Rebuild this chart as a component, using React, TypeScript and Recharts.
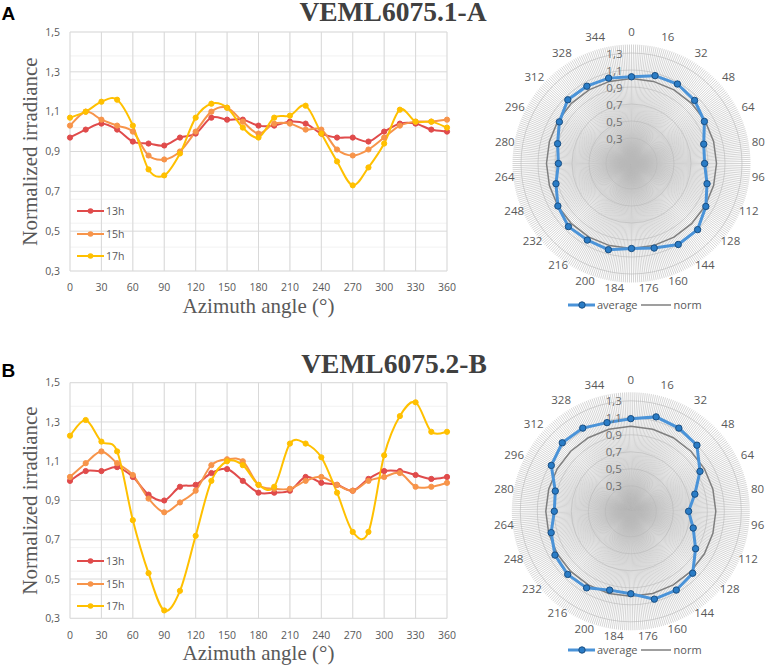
import React from 'react'
import {
  LineChart,
  Line,
  XAxis,
  YAxis,
  CartesianGrid,
  Legend,
  RadarChart,
  Radar,
  PolarGrid,
  PolarAngleAxis,
  PolarRadiusAxis,
} from 'recharts'

// Azimuth steps of the line charts (degrees)
const azimuth = [0, 15, 30, 45, 60, 75, 90, 105, 120, 135, 150, 165, 180, 195, 210, 225, 240, 255, 270, 285, 300, 315, 330, 345, 360]
const xTicks = [0, 30, 60, 90, 120, 150, 180, 210, 240, 270, 300, 330, 360]
const yTicks = [0.3, 0.5, 0.7, 0.9, 1.1, 1.3, 1.5]

// Panel A - VEML6075.1-A
const a13h = [0.97, 1.01, 1.04, 1.01, 0.95, 0.94, 0.93, 0.97, 0.99, 1.07, 1.06, 1.06, 1.03, 1.03, 1.05, 1.04, 0.99, 0.97, 0.97, 0.95, 1.0, 1.04, 1.04, 1.01, 1.0]
const a15h = [1.03, 1.1, 1.06, 1.03, 1.0, 0.88, 0.86, 0.9, 1.0, 1.1, 1.12, 1.05, 0.99, 1.04, 1.04, 1.01, 1.01, 0.91, 0.88, 0.91, 0.97, 1.03, 1.05, 1.05, 1.06]
const a17h = [1.07, 1.1, 1.15, 1.16, 1.03, 0.81, 0.78, 0.89, 1.07, 1.14, 1.12, 1.02, 0.97, 1.07, 1.08, 1.13, 0.99, 0.85, 0.73, 0.82, 0.94, 1.11, 1.05, 1.05, 1.02]

// Panel B - VEML6075.2-B
const b13h = [1.0, 1.05, 1.05, 1.07, 1.02, 0.93, 0.9, 0.97, 0.98, 1.04, 1.06, 1.0, 0.94, 0.94, 0.95, 1.02, 0.99, 0.98, 0.95, 1.01, 1.05, 1.05, 1.03, 1.01, 1.02]
const b15h = [1.02, 1.09, 1.15, 1.09, 1.03, 0.91, 0.84, 0.89, 0.95, 1.08, 1.11, 1.1, 0.98, 0.96, 0.96, 1.0, 1.02, 0.98, 0.95, 1.0, 1.02, 1.04, 0.97, 0.97, 0.99]
const b17h = [1.23, 1.31, 1.2, 1.15, 0.8, 0.53, 0.34, 0.44, 0.72, 1.0, 1.1, 1.08, 0.98, 0.97, 1.19, 1.19, 1.12, 0.94, 0.74, 0.74, 1.13, 1.33, 1.4, 1.25, 1.25]

// Radar charts: average every 15 degrees, plus the norm circle
const radarAngles = [0, 15, 30, 45, 60, 75, 90, 105, 120, 135, 150, 165, 180, 195, 210, 225, 240, 255, 270, 285, 300, 315, 330, 345]
const avgA = [1.02, 1.07, 1.08, 1.05, 0.99, 0.88, 0.86, 0.92, 1.01, 1.1, 1.1, 1.03, 1.0, 1.05, 1.04, 1.05, 1.0, 0.92, 0.86, 0.9, 0.98, 1.06, 1.05, 1.04]
const avgB = [1.09, 1.15, 1.13, 1.1, 0.94, 0.78, 0.68, 0.76, 0.88, 1.03, 1.07, 1.07, 0.97, 0.96, 1.04, 1.05, 1.03, 0.97, 0.9, 0.92, 1.08, 1.14, 1.13, 1.08]
const normLevel = 1.0
const angleLabels = [0, 16, 32, 48, 64, 80, 96, 112, 128, 144, 160, 176, 184, 200, 216, 232, 248, 264, 280, 296, 312, 328, 344]
const radarRings = [0.3, 0.5, 0.7, 0.9, 1.1, 1.3]

const hours = [
  { key: 'h13', name: '13h', color: '#e04b4b' },
  { key: 'h15', name: '15h', color: '#f7944a' },
  { key: 'h17', name: '17h', color: '#ffc000' },
]

const SANS = "'Open Sans', 'DejaVu Sans', sans-serif"
const SERIF = "'Liberation Serif', 'DejaVu Serif', serif"
const TEXT = '#595959'
const BLUE_LINE = '#4a93d8'
const BLUE_DOT = '#2a7cc6'
const BLUE_EDGE = '#1b4f82'

const fmt = (v: number) => v.toFixed(1).replace('.', ',')

// grid helper (not data): evenly spaced gridline values
const steps = (from: number, to: number, step: number) =>
  Array.from({ length: Math.round((to - from) / step) + 1 }, (_, i) => +(from + i * step).toFixed(3))
const minorY = steps(0.3, 1.5, 0.02)
const minorX = steps(0, 360, 10)
const spokes = steps(0, 359, 1)

// Excel-like smoothed line (Catmull-Rom through every point)
const excelSmooth = (context: any) => {
  let pts: number[][] = []
  return {
    areaStart() {},
    areaEnd() {},
    lineStart() {
      pts = []
    },
    lineEnd() {
      if (!pts.length) return
      context.moveTo(pts[0][0], pts[0][1])
      for (let i = 0; i < pts.length - 1; i++) {
        const p0 = pts[i - 1] || pts[i]
        const p1 = pts[i]
        const p2 = pts[i + 1]
        const p3 = pts[i + 2] || p2
        context.bezierCurveTo(
          p1[0] + (p2[0] - p0[0]) / 6,
          p1[1] + (p2[1] - p0[1]) / 6,
          p2[0] - (p3[0] - p1[0]) / 6,
          p2[1] - (p3[1] - p1[1]) / 6,
          p2[0],
          p2[1]
        )
      }
    },
    point(x: number, y: number) {
      pts.push([+x, +y])
    },
  }
}

const HoursLegend = () => (
  <div style={{ fontFamily: SANS, fontSize: 10.5, color: TEXT }}>
    {hours.map((h) => (
      <div key={h.key} style={{ display: 'flex', alignItems: 'center', height: 22.7 }}>
        <svg width={28} height={10}>
          <line x1={0} y1={5} x2={27} y2={5} stroke={h.color} strokeWidth={2} />
          <circle cx={13.5} cy={5} r={2.8} fill={h.color} />
        </svg>
        <span style={{ marginLeft: 1 }}>{h.name}</span>
      </div>
    ))}
  </div>
)

const YTitle = ({ viewBox }: any) => {
  const tx = viewBox.x + 28.5
  const ty = viewBox.y + viewBox.height / 2
  return (
    <text x={tx} y={ty} transform={`rotate(-90, ${tx}, ${ty})`} textAnchor="middle" fill={TEXT} fontSize={21} fontFamily={SERIF}>
      Normalized irradiance
    </text>
  )
}

const XTitle = ({ viewBox }: any) => (
  <text x={viewBox.x + viewBox.width / 2} y={viewBox.y + 41.7} textAnchor="middle" fill={TEXT} fontSize={21} fontFamily={SERIF}>
    Azimuth angle (°)
  </text>
)

const LinePanel = ({ s13, s15, s17, top, marginTop, marginBottom }: any) => {
  const rows = azimuth.map((a, i) => ({ angle: a, h13: s13[i], h15: s15[i], h17: s17[i] }))
  const tick = { fill: TEXT, fontSize: 10.5, fontFamily: SANS }
  return (
    <div style={{ position: 'absolute', left: 0, top }}>
      <LineChart width={460} height={320} data={rows} margin={{ top: marginTop, right: 13, bottom: marginBottom, left: 8 }}>
        <CartesianGrid horizontalValues={minorY} verticalValues={minorX} stroke="#efefef" strokeWidth={0.8} />
        <CartesianGrid horizontalValues={yTicks} verticalValues={xTicks} stroke="#d9d9d9" strokeWidth={1} />
        <XAxis
          dataKey="angle"
          type="number"
          domain={[0, 360]}
          ticks={xTicks}
          axisLine={false}
          tickLine={false}
          tickMargin={7}
          height={45}
          tick={tick}
          label={XTitle}
        />
        <YAxis
          type="number"
          domain={[0.3, 1.5]}
          ticks={yTicks}
          axisLine={false}
          tickLine={false}
          tickMargin={4}
          width={62}
          tick={tick}
          tickFormatter={fmt}
          label={YTitle}
        />
        <Legend
          layout="vertical"
          align="center"
          verticalAlign="middle"
          wrapperStyle={{ left: 77, top: 199.5, width: 60, height: 70 }}
          content={HoursLegend}
        />
        {hours.map((h) => (
          <Line
            key={h.key}
            dataKey={h.key}
            name={h.name}
            type={excelSmooth as any}
            stroke={h.color}
            strokeWidth={2}
            dot={{ r: 2.6, fill: h.color, stroke: h.color, strokeWidth: 1 }}
            activeDot={false}
            isAnimationActive={false}
          />
        ))}
      </LineChart>
    </div>
  )
}

const RadarLegend = () => (
  <div style={{ display: 'flex', alignItems: 'center', fontFamily: SANS, fontSize: 11, color: TEXT, whiteSpace: 'nowrap' }}>
    <svg width={27} height={10}>
      <line x1={0} y1={5} x2={27} y2={5} stroke={BLUE_LINE} strokeWidth={3} />
      <circle cx={14} cy={5} r={3.2} fill={BLUE_DOT} stroke={BLUE_EDGE} strokeWidth={1} />
    </svg>
    <span style={{ marginLeft: 2 }}>average</span>
    <svg width={30} height={10} style={{ marginLeft: 3 }}>
      <line x1={0} y1={5} x2={30} y2={5} stroke="#7f7f7f" strokeWidth={1.5} />
    </svg>
    <span style={{ marginLeft: 3 }}>norm</span>
  </div>
)

const RadarPanel = ({ avg, top, cx, cy }: any) => {
  const rows = radarAngles.map((a, i) => ({ angle: a, average: avg[i], norm: normLevel }))
  const angleTick = (props: any) => {
    const { x, y, payload } = props
    const dx = x - cx
    const dy = y - cy
    const d = Math.hypot(dx, dy) || 1
    const down = dy / d
    // a bit further out at the top, closer at the bottom; bottom labels pushed apart
    const R = 128 - 4 * down
    const spread = down > 0.97 ? Math.sign(dx) * 8.5 : down > 0.9 ? Math.sign(dx) * 4 : 0
    return (
      <text
        x={cx + (dx / d) * R + spread}
        y={cy + down * R}
        textAnchor="middle"
        dominantBaseline="central"
        fill={TEXT}
        fontSize={11.5}
        fontFamily={SANS}
      >
        {payload.value}
      </text>
    )
  }
  const ringTick = (props: any) => (
    <text x={props.x - 9} y={props.y} textAnchor="end" dominantBaseline="central" fill="#6f6f6f" fontSize={11.5} fontFamily={SANS}>
      {fmt(props.payload.value)}
    </text>
  )
  return (
    <div style={{ position: 'absolute', left: 490, top }}>
      <RadarChart width={278} height={300} data={rows} cx={cx} cy={cy} outerRadius={119} innerRadius={0} margin={{ top: 0, right: 0, bottom: 0, left: 0 }}>
        <PolarGrid gridType="circle" polarAngles={spokes} stroke="#b9b9b9" strokeWidth={0.6} />
        <PolarAngleAxis dataKey="angle" type="number" domain={[0, 360]} ticks={angleLabels} tick={angleTick} tickLine={false} axisLine={false} />
        <PolarRadiusAxis angle={90} type="number" domain={[0.3, 1.4]} ticks={radarRings} tick={ringTick} axisLine={false} tickLine={false} />
        <Radar dataKey="norm" name="norm" stroke="#7f7f7f" strokeWidth={1.5} fill="none" fillOpacity={0} dot={false} isAnimationActive={false} />
        <Radar
          dataKey="average"
          name="average"
          stroke={BLUE_LINE}
          strokeWidth={3}
          fill="none"
          fillOpacity={0}
          dot={{ r: 3.2, fill: BLUE_DOT, stroke: BLUE_EDGE, strokeWidth: 1, fillOpacity: 1 }}
          isAnimationActive={false}
        />
        <Legend
          layout="vertical"
          align="center"
          verticalAlign="middle"
          wrapperStyle={{ left: 78, top: 277, width: 140, height: 16 }}
          content={RadarLegend}
        />
      </RadarChart>
    </div>
  )
}

export default function App() {
  return (
    <div style={{ position: 'absolute', left: 0, top: 0, width: 768, height: 667, background: '#fff', overflow: 'hidden' }}>
      <LinePanel s13={a13h} s15={a15h} s17={a17h} top={0} marginTop={32} marginBottom={4} />
      <LinePanel s13={b13h} s15={b15h} s17={b17h} top={350} marginTop={32.7} marginBottom={6.7} />
      <RadarPanel avg={avgA} top={20} cx={141.5} cy={143.5} />
      <RadarPanel avg={avgB} top={365} cx={140.8} cy={146.3} />
      <svg width={768} height={667} style={{ position: 'absolute', left: 0, top: 0, pointerEvents: 'none' }}>
        <text x={393} y={21} textAnchor="middle" fontFamily={SERIF} fontWeight="bold" fontSize={27.5} fill="#404040">
          VEML6075.1-A
        </text>
        <text x={394} y={372.7} textAnchor="middle" fontFamily={SERIF} fontWeight="bold" fontSize={27.5} fill="#404040">
          VEML6075.2-B
        </text>
        <text x={1.5} y={20} fontFamily="'Liberation Sans', Arial, sans-serif" fontWeight="bold" fontSize={19} fill="#000">
          A
        </text>
        <text x={1.5} y={376.7} fontFamily="'Liberation Sans', Arial, sans-serif" fontWeight="bold" fontSize={19} fill="#000">
          B
        </text>
      </svg>
    </div>
  )
}
